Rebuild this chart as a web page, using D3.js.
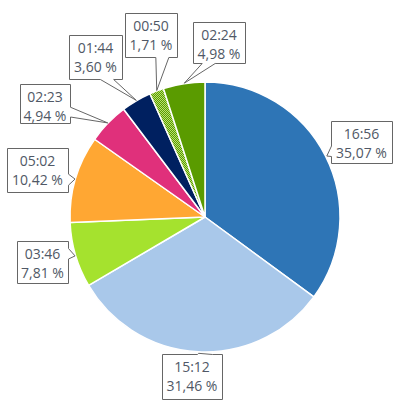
<!DOCTYPE html>
<html>
<head>
<meta charset="utf-8">
<script src="https://cdn.jsdelivr.net/npm/d3@7"></script>
<style>
  body { margin: 0; background: #fff; }
</style>
</head>
<body>
<div id="vis"></div>
<script>
// Slices, clockwise from 12 o'clock
const durations = ["16:56", "15:12", "03:46", "05:02", "02:23", "01:44", "00:50", "02:24"];
const shares = [35.07, 31.46, 7.81, 10.42, 4.94, 3.60, 1.71, 4.98];
const sliceColors = ["#2e75b6", "#a9c8ea", "#a5e22e", "#ffa733", "#e0307b", "#002060", "url(#hatch)", "#5a9b00"];

// Callout boxes: left, top, width, height
const boxes = [
  [331, 121, 61, 42],
  [162, 354, 60, 45],
  [17, 241, 51, 42],
  [7, 148, 61, 44],
  [20, 84, 50, 39],
  [69, 35, 53, 44],
  [125, 13, 52, 44],
  [193, 22, 52, 41]
];

const width = 398;
const height = 413;
const cx = 205, cy = 217, radius = 135;

const svg = d3.select("#vis")
  .append("svg")
  .attr("width", width)
  .attr("height", height);

// Checker pattern for the small slice
const defs = svg.append("defs");
const pat = defs.append("pattern")
  .attr("id", "hatch")
  .attr("patternUnits", "userSpaceOnUse")
  .attr("width", 2)
  .attr("height", 2);
pat.append("rect").attr("width", 2).attr("height", 2).attr("fill", "#5a9b00");
pat.append("rect").attr("width", 1).attr("height", 1).attr("fill", "#b8e070");
pat.append("rect").attr("x", 1).attr("y", 1).attr("width", 1).attr("height", 1).attr("fill", "#b8e070");

const pie = d3.pie().sort(null).value(d => d);
const arcs = pie(shares);

const arc = d3.arc().innerRadius(0).outerRadius(radius);
const edge = d3.arc().innerRadius(radius + 1).outerRadius(radius + 1);

const g = svg.append("g").attr("transform", `translate(${cx},${cy})`);

g.selectAll("path")
  .data(arcs)
  .enter()
  .append("path")
  .attr("d", arc)
  .attr("fill", (d, i) => sliceColors[i])
  .attr("stroke", "#fff")
  .attr("stroke-width", 1.5)
  .attr("stroke-linejoin", "round");

// callout shape: box plus wedge pointing to the slice
function callout(b, a) {
  const [x, y, w, h] = b;
  const [ax, ay] = a;
  const dx = ax < x ? x - ax : ax > x + w ? ax - (x + w) : 0;
  const dy = ay < y ? y - ay : ay > y + h ? ay - (y + h) : 0;
  const seg = (s, len, before) => before ? [s + len * 2 / 12, s + len * 5 / 12] : [s + len * 7 / 12, s + len * 10 / 12];
  let pts;
  if (dx >= dy) {
    const [b1, b2] = seg(y, h, ay < y + h / 2);
    if (ax < x) pts = [[x, y], [x + w, y], [x + w, y + h], [x, y + h], [x, b2], [ax, ay], [x, b1]];
    else pts = [[x, y], [x + w, y], [x + w, b1], [ax, ay], [x + w, b2], [x + w, y + h], [x, y + h]];
  } else {
    const [b1, b2] = seg(x, w, ax < x + w / 2);
    if (ay < y) pts = [[x, y], [b1, y], [ax, ay], [b2, y], [x + w, y], [x + w, y + h], [x, y + h]];
    else pts = [[x, y], [x + w, y], [x + w, y + h], [b2, y + h], [ax, ay], [b1, y + h], [x, y + h]];
  }
  return "M" + pts.map(p => [p[0] + 0.5, p[1] + 0.5]).join("L") + "Z";
}

const fmt = d3.format(".2f");
const labels = svg.append("g");

arcs.forEach((d, i) => {
  const c = edge.centroid(d);
  const anchor = [cx + c[0], cy + c[1]];
  const b = boxes[i];
  labels.append("path")
    .attr("d", callout(b, anchor))
    .attr("fill", "#fff")
    .attr("stroke", "#666")
    .attr("stroke-width", 1);
  const t = labels.append("text")
    .attr("text-anchor", "middle")
    .attr("font-family", "'Open Sans', sans-serif")
    .attr("font-size", "14px")
    .attr("fill", "#505866");
  t.append("tspan")
    .attr("x", b[0] + b[2] / 2)
    .attr("y", b[1] + 17.5)
    .text(durations[i]);
  t.append("tspan")
    .attr("x", b[0] + b[2] / 2)
    .attr("y", b[1] + 36.5)
    .text(fmt(shares[i]).replace(".", ",") + " %");
});
</script>
</body>
</html>
